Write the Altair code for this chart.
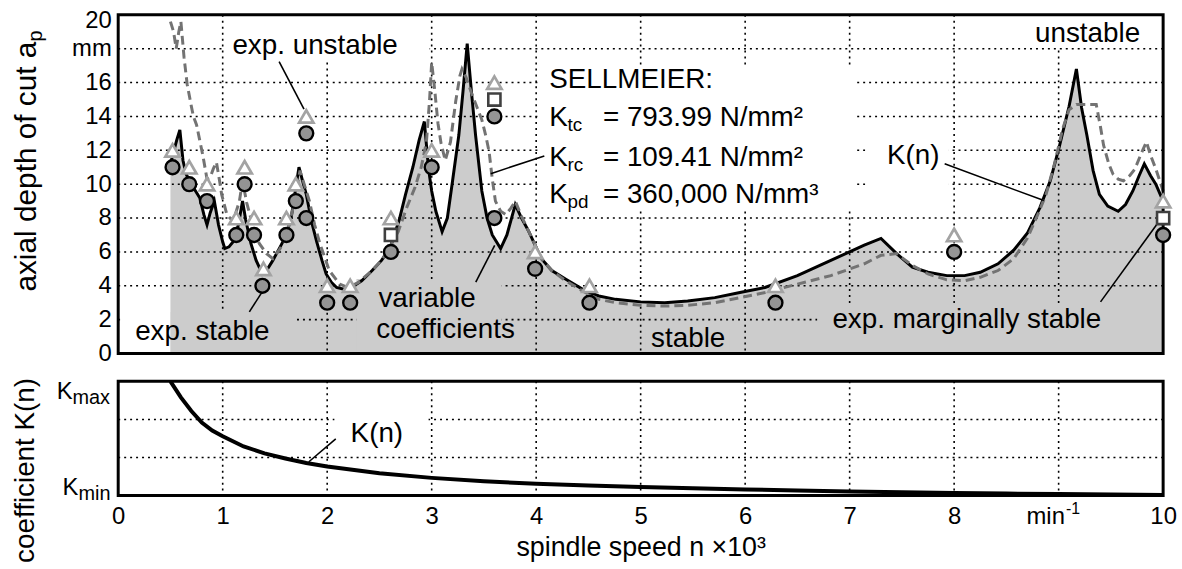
import altair as alt
import pandas as pd

FONT = "Liberation Sans"

# ---------------- data ----------------
# stability lobe, variable coefficients K(n) (solid black, grey fill below)
sol_n = [0.50, 0.56, 0.59, 0.62, 0.65, 0.69, 0.74, 0.78, 0.82, 0.85, 0.88, 0.92, 0.96, 1.00, 1.02,
         1.06, 1.10, 1.15, 1.19, 1.22, 1.27, 1.32, 1.38, 1.43, 1.48, 1.55, 1.61, 1.66, 1.70, 1.73,
         1.76, 1.80, 1.85, 1.90, 1.95, 1.99, 2.04, 2.09, 2.16, 2.23, 2.33, 2.43, 2.52, 2.60, 2.69,
         2.75, 2.82, 2.88, 2.93, 2.97, 3.00, 3.04, 3.10, 3.15, 3.20, 3.26, 3.30, 3.34, 3.38, 3.42,
         3.48, 3.53, 3.58, 3.66, 3.72, 3.80, 3.86, 3.93, 4.05, 4.15, 4.28, 4.47, 4.60, 4.76, 5.00,
         5.23, 5.45, 5.71, 5.95, 6.19, 6.50, 6.82, 7.14, 7.30, 7.45, 7.60, 7.75, 7.93, 8.10, 8.25,
         8.42, 8.57, 8.70, 8.82, 8.92, 9.01, 9.10, 9.17, 9.22, 9.27, 9.33, 9.39, 9.47, 9.57, 9.64,
         9.71, 9.77, 9.82, 9.88, 9.93, 10.00]
sol_ap = [11.2, 12.6, 13.2, 11.4, 10.6, 10.1, 9.6, 9.2, 8.2, 7.6, 8.3, 9.0, 7.6, 6.6, 6.2,
          6.3, 6.6, 7.6, 9.0, 7.9, 6.5, 5.5, 4.7, 5.0, 5.5, 6.3, 7.0, 8.2, 9.8, 11.0,
          10.3, 9.4, 7.8, 6.6, 5.5, 4.7, 4.2, 3.9, 3.8, 3.9, 4.3, 4.9, 5.5, 6.2, 7.9,
          9.4, 11.0, 12.6, 13.7, 10.9, 9.6, 8.4, 7.2, 8.0, 10.2, 12.9, 15.5, 18.3, 15.5, 12.9,
          9.6, 8.0, 7.0, 6.2, 7.0, 8.8, 8.0, 7.2, 5.6, 4.9, 4.4, 3.7, 3.4, 3.2, 3.05,
          3.0, 3.1, 3.3, 3.6, 3.9, 4.6, 5.5, 6.4, 6.8, 5.9, 5.1, 4.8, 4.6, 4.6, 4.8,
          5.3, 6.1, 7.1, 8.6, 10.2, 12.3, 14.6, 16.8, 14.5, 12.9, 10.8, 9.4, 8.7, 8.4, 8.8,
          9.6, 10.5, 11.2, 10.5, 10.0, 9.0]

# constant coefficients (SELLMEIER), grey dashed
dash_n = [0.50, 0.53, 0.555, 0.58, 0.60, 0.63, 0.66, 0.70, 0.72, 0.75, 0.78, 0.81, 0.85, 0.88, 0.91,
          0.94, 0.97, 0.99, 1.04, 1.10, 1.16, 1.19, 1.23, 1.29, 1.35, 1.42, 1.48, 1.55, 1.61, 1.67,
          1.71, 1.74, 1.78, 1.83, 1.88, 1.93, 2.02, 2.12, 2.20, 2.30, 2.43, 2.52, 2.60, 2.68, 2.76,
          2.84, 2.90, 2.95, 2.98, 3.00, 3.03, 3.06, 3.09, 3.13, 3.18, 3.23, 3.27, 3.29, 3.33, 3.38,
          3.43, 3.48, 3.52, 3.55, 3.58, 3.61, 3.66, 3.71, 3.76, 3.80, 3.86, 3.93, 4.05, 4.15, 4.28,
          4.47, 4.60, 4.76, 5.00, 5.23, 5.45, 5.71, 5.95, 6.19, 6.50, 6.82, 7.14, 7.30, 7.45, 7.60,
          7.75, 7.93, 8.10, 8.25, 8.42, 8.57, 8.70, 8.80, 8.88, 8.96, 9.04, 9.10, 9.17, 9.36, 9.40,
          9.43, 9.48, 9.52, 9.57, 9.62, 9.68, 9.73, 9.79, 9.84, 9.88, 9.93, 10.00]
dash_ap = [19.6, 19.0, 18.0, 19.0, 19.6, 17.5, 15.9, 14.6, 14.0, 13.5, 12.6, 11.7, 10.3, 10.4, 10.9,
           11.3, 10.2, 9.4, 8.2, 7.8, 9.0, 10.2, 8.9, 7.5, 6.5, 5.9, 5.6, 6.2, 7.0, 8.5,
           9.8, 10.8, 10.0, 9.0, 7.6, 6.5, 4.9, 4.1, 3.9, 4.2, 4.9, 5.5, 6.3, 7.2, 8.6,
           9.8, 11.0, 12.5, 15.0, 17.2, 15.5, 13.6, 12.4, 11.4, 12.5, 14.9, 16.4, 16.8, 16.3, 15.4,
           14.6, 13.8, 12.8, 11.9, 10.3, 9.0, 8.4, 8.2, 8.6, 9.0, 8.1, 7.2, 5.6, 4.9, 4.3,
           3.6, 3.2, 3.0, 2.85, 2.8, 2.85, 3.0, 3.3, 3.6, 4.1, 4.6, 5.3, 5.8, 5.9, 5.2,
           4.7, 4.35, 4.3, 4.5, 4.9, 5.6, 6.8, 8.2, 9.4, 11.2, 13.3, 14.4, 14.7, 14.7, 13.4,
           12.3, 11.2, 10.6, 10.3, 10.2, 10.5, 10.9, 11.8, 12.5, 11.7, 10.9, 9.6]

# experiments
stable_n = [0.52, 0.68, 0.85, 1.13, 1.21, 1.30, 1.38, 1.61, 1.70, 1.80, 1.80, 2.00, 2.22, 2.61,
            3.00, 3.60, 3.60, 3.99, 4.51, 6.29, 8.00, 10.00]
stable_ap = [11, 10, 9, 7, 10, 7, 4, 7, 9, 8, 13, 3, 3, 6, 11, 14, 8, 5, 3, 3, 6, 7]
unstable_n = [0.52, 0.68, 0.85, 1.13, 1.21, 1.30, 1.39, 1.61, 1.70, 1.80, 2.00, 2.22, 2.61, 3.00,
              3.60, 3.99, 4.51, 6.29, 8.00, 10.00]
unstable_ap = [12, 11, 10, 8, 11, 8, 5, 8, 10, 14, 4, 4, 8, 12, 16, 6, 4, 4, 7, 9]
marginal_n = [2.61, 3.60, 10.00]
marginal_ap = [7, 15, 8]

# coefficient K(n), relative between K_min (0) and K_max (1)
k_n = [0.50, 0.60, 0.70, 0.80, 0.90, 1.00, 1.20, 1.40, 1.60, 1.80, 2.00, 2.50, 3.00, 3.50, 4.00,
       4.50, 5.00, 5.50, 6.00, 6.50, 7.00, 7.50, 8.00, 8.50, 9.00, 9.50, 10.00]
k_val = [1.00, 0.86, 0.74, 0.64, 0.57, 0.52, 0.43, 0.37, 0.325, 0.285, 0.255, 0.195, 0.155, 0.125,
         0.104, 0.088, 0.075, 0.064, 0.054, 0.045, 0.036, 0.029, 0.023, 0.018, 0.013, 0.009, 0.005]

grid_n = [1, 2, 3, 4, 5, 6, 7, 8, 9]
grid_ap = [2, 4, 6, 8, 10, 12, 14, 16, 18]
grid_k = [1 / 3, 2 / 3]
ap_ticks = [0, 2, 4, 6, 8, 10, 12, 14, 16, 18, 20]
n_ticks = [0, 1, 2, 3, 4, 5, 6, 7, 8, 9, 10]

# ---------------- tables ----------------
sol = pd.DataFrame({"n": sol_n, "ap": sol_ap})
dsh = pd.DataFrame({"n": dash_n, "ap": dash_ap})
stb = pd.DataFrame({"n": stable_n, "ap": stable_ap})
uns = pd.DataFrame({"n": unstable_n, "ap": unstable_ap})
mrg = pd.DataFrame({"n": marginal_n, "ap": marginal_ap})
kdf = pd.DataFrame({"n": k_n, "k": k_val})

xs = alt.Scale(domain=[0, 10], nice=False, zero=False)
ys = alt.Scale(domain=[0, 20], nice=False, zero=False)
ks = alt.Scale(domain=[0, 1], nice=False, zero=False)

axis_ap = alt.Axis(values=ap_ticks, labelExpr="datum.value == 18 ? 'mm' : datum.label",
                   labelFont=FONT, labelFontSize=24, labelColor="black", ticks=False, tickSize=0,
                   domain=False, grid=False, labelPadding=7, title=None, labelFlush=False,
                   labelOverlap=False, labelBaseline="middle",
                   labelOffset={"condition": {"test": "datum.value == 20", "value": 6},
                                "value": 0})
axis_n = alt.Axis(values=n_ticks, labelExpr="datum.value == 9 ? '' : datum.label",
                  labelFont=FONT, labelFontSize=24, labelColor="black", ticks=False, tickSize=0,
                  domain=False, grid=False, labelPadding=9, labelFlush=False, labelOverlap=False,
                  title="spindle speed n \u00d710\u00b3", titleFont=FONT, titleFontSize=27,
                  titleFontWeight="normal", titleColor="black", titlePadding=6)


def XT(f):
    return alt.X(f, type="quantitative", scale=xs, axis=None)


def YT(f):
    return alt.Y(f, type="quantitative", scale=ys, axis=axis_ap)


def XB(f):
    return alt.X(f, type="quantitative", scale=xs, axis=axis_n)


def YB(f):
    return alt.Y(f, type="quantitative", scale=ks, axis=None)


W, HT, HB = 1052, 341, 115
GRAY = "#cccccc"

# --- top panel ---
area = alt.Chart(sol).mark_area(color=GRAY).encode(x=XT("n"), y=YT("ap"))
gvx = alt.Chart(pd.DataFrame({"g": grid_n})).mark_rule(
    color="black", strokeWidth=1.6, strokeDash=[2, 4]).encode(x=XT("g"))
gvy = alt.Chart(pd.DataFrame({"g": grid_ap})).mark_rule(
    color="black", strokeWidth=1.6, strokeDash=[2, 4]).encode(y=YT("g"))

boxes_top = pd.DataFrame({
    "x0": [1.02, 4.02, 7.15, 8.70, 0.02, 0.50, 2.28, 5.05, 6.69],
    "x1": [2.98, 7.07, 7.95, 9.90, 0.50, 1.70, 3.67, 5.85, 9.99],
    "y0": [17.3, 8.45, 9.0, 18.1, 0.05, 0.05, 0.05, 0.05, 0.05],
    "y1": [19.95, 16.95, 13.6, 19.95, 2.45, 2.45, 4.4, 1.5, 2.95],
    "c": ["white", "white", "white", "white", "white", GRAY, GRAY, GRAY, GRAY],
})
bg_top = alt.Chart(boxes_top).mark_rect().encode(
    x=XT("x0"), x2="x1", y=YT("y0"), y2="y1", color=alt.Color("c:N", scale=None))

solid = alt.Chart(sol).mark_line(color="black", strokeWidth=3).encode(x=XT("n"), y=YT("ap"))
dashed = alt.Chart(dsh).mark_line(color="#737373", strokeWidth=3, strokeDash=[9, 5]).encode(
    x=XT("n"), y=YT("ap"))
frame_top = alt.Chart(pd.DataFrame({"x0": [0], "x1": [10], "y0": [0], "y1": [20]})).mark_rect(
    filled=False, stroke="black", strokeWidth=3).encode(x=XT("x0"), x2="x1", y=YT("y0"), y2="y1")

leaders_top = pd.DataFrame({
    "x0": [1.54, 1.255, 3.422, 3.565, 7.909, 9.401],
    "y0": [17.24, 2.46, 4.22, 10.62, 11.2, 3.05],
    "x1": [1.778, 1.378, 3.603, 4.078, 8.859, 9.953],
    "y1": [14.43, 3.64, 6.39, 11.67, 9.03, 7.74],
})
lead_top = alt.Chart(leaders_top).mark_rule(color="black", strokeWidth=1.6).encode(
    x=XT("x0"), y=YT("y0"), x2="x1", y2="y1")

circ = alt.Chart(stb).mark_point(shape="circle", filled=True, size=196, fill="#949494",
                                  stroke="black", strokeWidth=2.4, opacity=1).encode(
    x=XT("n"), y=YT("ap"))
sq = alt.Chart(mrg).mark_point(shape="square", filled=True, size=150, fill="white",
                               stroke="#404040", strokeWidth=2.6, opacity=1).encode(
    x=XT("n"), y=YT("ap"))
tri = alt.Chart(uns).mark_point(shape="triangle-up", filled=True, size=210, fill="white",
                                stroke="#a3a3a3", strokeWidth=2.7, opacity=1).encode(
    x=XT("n"), y=YT("ap"))

texts_top = pd.DataFrame({
    "t": ["exp. unstable", "SELLMEIER:", "K", "= 793.99 N/mm\u00b2", "K", "= 109.41 N/mm\u00b2",
          "K", "= 360,000 N/mm\u00b3", "K(n)", "exp. stable", "variable", "coefficients",
          "stable", "exp. marginally stable"],
    "x": [1.093, 4.125, 4.125, 4.639, 4.125, 4.639, 4.125, 4.639, 7.357, 0.162, 2.49, 2.47,
          5.10, 6.835],
    "y": [17.71, 15.66, 13.43, 13.43, 11.08, 11.08, 8.91, 8.91, 11.20, 0.82, 2.76, 0.94, 0.41,
          1.52],
})
txt_top = alt.Chart(texts_top).mark_text(font=FONT, fontSize=28, align="left",
                                         baseline="alphabetic", color="black").encode(
    x=XT("x"), y=YT("y"), text="t:N")
txt_unst = alt.Chart(pd.DataFrame({"t": ["unstable"], "x": [9.78], "y": [18.42]})).mark_text(
    font=FONT, fontSize=28, align="right", baseline="alphabetic", color="black").encode(
    x=XT("x"), y=YT("y"), text="t:N")
subs_top = pd.DataFrame({"t": ["tc", "rc", "pd"], "x": [4.300, 4.300, 4.300],
                         "y": [13.14, 10.79, 8.62]})
txt_sub = alt.Chart(subs_top).mark_text(font=FONT, fontSize=19, align="left",
                                        baseline="alphabetic", color="black").encode(
    x=XT("x"), y=YT("y"), text="t:N")
ytitle = alt.Chart(pd.DataFrame({"t": ["axial depth of cut a"], "x": [-0.789], "y": [18.42]})).mark_text(
    font=FONT, fontSize=30, align="right", baseline="alphabetic", angle=270, color="black").encode(
    x=XT("x"), y=YT("y"), text="t:N")
ytitle_sub = alt.Chart(pd.DataFrame({"t": ["p"], "x": [-0.728], "y": [18.42]})).mark_text(
    font=FONT, fontSize=20, align="left", baseline="alphabetic", angle=270, color="black").encode(
    x=XT("x"), y=YT("y"), text="t:N")

top = alt.layer(area, gvx, gvy, bg_top, solid, dashed, frame_top, lead_top, circ, sq, tri,
                txt_top, txt_unst, txt_sub, ytitle, ytitle_sub).properties(width=W, height=HT)

# --- bottom panel ---
bvx = alt.Chart(pd.DataFrame({"g": grid_n})).mark_rule(
    color="black", strokeWidth=1.6, strokeDash=[2, 4]).encode(x=XB("g"))
bvy = alt.Chart(pd.DataFrame({"g": grid_k})).mark_rule(
    color="black", strokeWidth=1.6, strokeDash=[2, 4]).encode(y=YB("g"))
bg_bot = alt.Chart(pd.DataFrame({"x0": [2.07], "x1": [2.97], "y0": [0.41], "y1": [0.80]})).mark_rect(
    color="white").encode(x=XB("x0"), x2="x1", y=YB("y0"), y2="y1")
kline = alt.Chart(kdf).mark_line(color="black", strokeWidth=4).encode(x=XB("n"), y=YB("k"))
frame_bot = alt.Chart(pd.DataFrame({"x0": [0], "x1": [10], "y0": [0], "y1": [1]})).mark_rect(
    filled=False, stroke="black", strokeWidth=3).encode(x=XB("x0"), x2="x1", y=YB("y0"), y2="y1")
lead_bot = alt.Chart(pd.DataFrame({"x0": [1.825], "y0": [0.296], "x1": [2.082], "y1": [0.496]})).mark_rule(
    color="black", strokeWidth=1.6).encode(x=XB("x0"), y=YB("y0"), x2="x1", y2="y1")

bt_main = pd.DataFrame({"t": ["K(n)"], "x": [2.224], "y": [0.47]})
txt_kn = alt.Chart(bt_main).mark_text(font=FONT, fontSize=28, align="left", baseline="alphabetic",
                                      color="black").encode(x=XB("x"), y=YB("y"), text="t:N")
kbig = pd.DataFrame({"t": ["K", "K"], "x": [-0.437, -0.38], "y": [0.843, 0.009]})
txt_kbig = alt.Chart(kbig).mark_text(font=FONT, fontSize=24, align="right", baseline="alphabetic",
                                     color="black").encode(x=XB("x"), y=YB("y"), text="t:N")
ksub = pd.DataFrame({"t": ["max", "min"], "x": [-0.437, -0.38], "y": [0.80, -0.035]})
txt_ksub = alt.Chart(ksub).mark_text(font=FONT, fontSize=20, align="left", baseline="alphabetic",
                                     color="black").encode(x=XB("x"), y=YB("y"), text="t:N")
unit_main = alt.Chart(pd.DataFrame({"t": ["min"], "x": [9.06], "y": [-0.252]})).mark_text(
    font=FONT, fontSize=24, align="right", baseline="alphabetic", color="black").encode(
    x=XB("x"), y=YB("y"), text="t:N")
unit_sup = alt.Chart(pd.DataFrame({"t": ["-1"], "x": [9.07], "y": [-0.165]})).mark_text(
    font=FONT, fontSize=16, align="left", baseline="alphabetic", color="black").encode(
    x=XB("x"), y=YB("y"), text="t:N")
ktitle = alt.Chart(pd.DataFrame({"t": ["coefficient K(n)"], "x": [-0.808], "y": [0.22]})).mark_text(
    font=FONT, fontSize=28, align="center", baseline="alphabetic", angle=270, color="black").encode(
    x=XB("x"), y=YB("y"), text="t:N")

bottom = alt.layer(bvx, bvy, bg_bot, kline, frame_bot, lead_bot, txt_kn, txt_kbig, txt_ksub,
                   unit_main, unit_sup, ktitle).properties(width=W, height=HB)

chart = alt.vconcat(top, bottom, spacing=28, bounds="flush").properties(
    padding={"left": 11, "top": 6, "right": 5, "bottom": 3},
    background="white",
).configure_view(stroke="transparent")

chart.save("out.html", embed_options={"renderer": "svg", "actions": False})
